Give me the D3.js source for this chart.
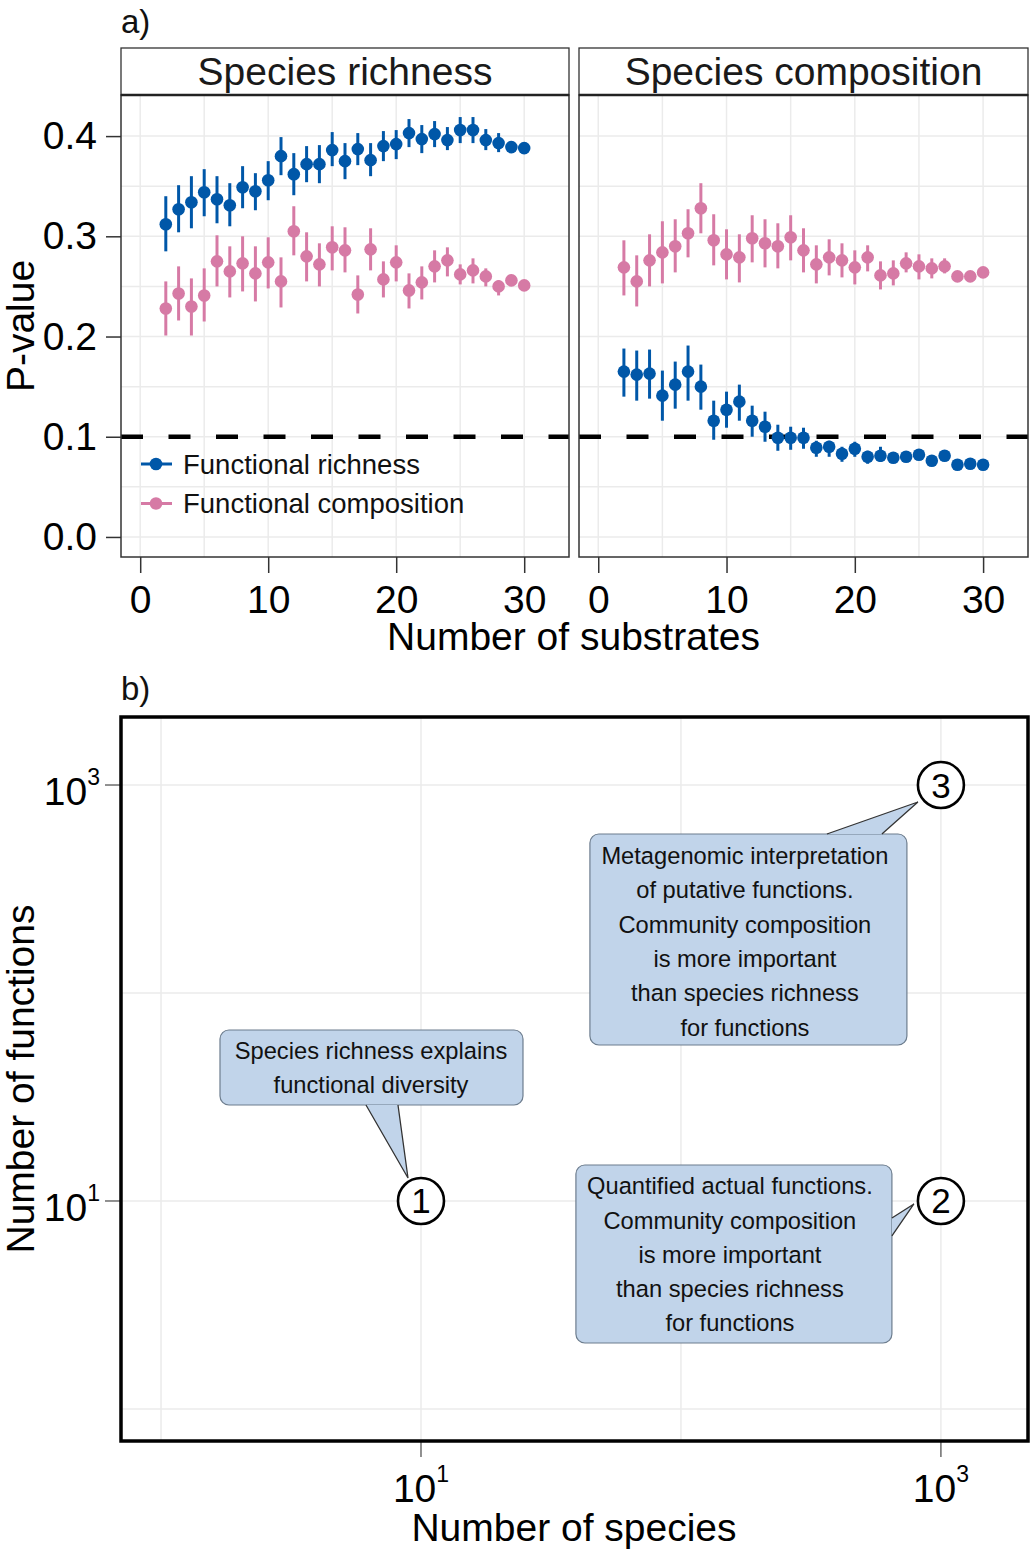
<!DOCTYPE html>
<html>
<head>
<meta charset="utf-8">
<script src="https://cdn.jsdelivr.net/npm/d3@7"></script>
<style>
  html, body { margin: 0; padding: 0; background: #fff; }
  svg { display: block; font-family: "Liberation Sans", Arial, Helvetica, sans-serif; }
</style>
</head>
<body>
<svg id="chart" width="1033" height="1552"></svg>
<script>
// ---------------- DATA ----------------
const substrates = [2,3,4,5,6,7,8,9,10,11,12,13,14,15,16,17,18,19,20,21,22,23,24,25,26,27,28,29,30];
const panelNames = ["Species richness", "Species composition"];
const seriesNames = ["Functional richness", "Functional composition"];
const pTicks = [0.0, 0.1, 0.2, 0.3, 0.4];
const substrateTicks = [0, 10, 20, 30];
const threshold = 0.1;

// Panel "Species richness"
const srRichness   = [.312,.327,.334,.344,.337,.331,.349,.345,.356,.380,.362,.372,.372,.386,.375,.387,.376,.390,.392,.403,.397,.402,.396,.406,.406,.396,.393,.389,.388];
const srRichnessHi = [.340,.351,.360,.367,.360,.353,.370,.363,.375,.399,.383,.390,.391,.404,.393,.403,.393,.405,.406,.417,.411,.415,.409,.419,.419,.407,.403,.393,.390];
const srRichnessLo = [.285,.304,.308,.320,.313,.310,.328,.326,.336,.361,.341,.354,.353,.370,.357,.371,.360,.375,.377,.389,.383,.389,.386,.393,.393,.386,.384,.385,.386];
const srComposition   = [.228,.243,.230,.241,.275,.265,.273,.263,.274,.255,.305,.280,.272,.289,.286,.242,.287,.257,.274,.246,.254,.270,.276,.262,.266,.260,.250,.256,.251];
const srCompositionHi = [.255,.270,.258,.268,.301,.290,.300,.290,.299,.279,.330,.304,.293,.310,.309,.261,.308,.275,.291,.263,.270,.286,.289,.272,.278,.268,.256,.260,.253];
const srCompositionLo = [.201,.216,.201,.215,.250,.239,.245,.235,.248,.229,.281,.255,.250,.266,.264,.223,.266,.239,.255,.228,.237,.254,.260,.252,.253,.250,.241,.252,.249];

// Panel "Species composition"
const scRichness   = [.165,.162,.163,.141,.152,.165,.150,.116,.127,.135,.116,.110,.099,.099,.099,.089,.090,.083,.088,.080,.081,.079,.080,.082,.076,.081,.072,.073,.072];
const scRichnessHi = [.188,.186,.187,.166,.175,.191,.172,.136,.145,.152,.131,.125,.112,.110,.109,.096,.096,.090,.095,.086,.090,.084,.085,.087,.079,.085,.075,.076,.075];
const scRichnessLo = [.140,.136,.138,.116,.128,.136,.127,.097,.109,.116,.100,.095,.086,.087,.088,.080,.080,.075,.080,.073,.075,.074,.076,.078,.073,.078,.069,.070,.069];
const scComposition   = [.269,.255,.276,.284,.290,.303,.328,.296,.282,.279,.298,.293,.290,.299,.286,.272,.279,.276,.269,.279,.261,.263,.273,.270,.268,.270,.260,.260,.264];
const scCompositionHi = [.296,.281,.302,.315,.317,.327,.353,.322,.307,.302,.321,.317,.313,.321,.308,.291,.297,.293,.286,.291,.275,.276,.284,.282,.278,.278,.263,.263,.267];
const scCompositionLo = [.241,.230,.250,.253,.264,.279,.303,.271,.257,.254,.274,.269,.268,.276,.264,.253,.261,.259,.252,.265,.247,.251,.264,.257,.258,.263,.257,.257,.261];

// Panel b
const speciesTicks = [10, 1000];
const functionTicks = [10, 1000];
const gridDecades = [1, 10, 100, 1000];
const calloutIds = ["1", "2", "3"];
const calloutSpecies = [10, 1000, 1000];
const calloutFunctions = [10, 10, 1000];
const calloutText = [
  ["Species richness explains", "functional diversity"],
  ["Quantified actual functions.", "Community composition", "is more important", "than species richness", "for functions"],
  ["Metagenomic interpretation", "of putative functions.", "Community composition", "is more important", "than species richness", "for functions"]
];

// ---------------- STYLE ----------------
const colRich = "#0057a8";
const colComp = "#d67aa5";
const gridCol = "#ebebeb";
const FONT = 39;
const CALLFONT = 23.7;

const svg = d3.select("#chart");

// ---------------- PANEL A ----------------
const panelX = [[121, 569], [579, 1028]];
const pTop = 95, pBottom = 557, stripTop = 48;
const y = d3.scaleLinear().domain([-0.02, 0.441]).range([pBottom, pTop]);

const panelData = [
  [
    {name: seriesNames[1], col: colComp, m: srComposition, lo: srCompositionLo, hi: srCompositionHi},
    {name: seriesNames[0], col: colRich, m: srRichness, lo: srRichnessLo, hi: srRichnessHi}
  ],
  [
    {name: seriesNames[1], col: colComp, m: scComposition, lo: scCompositionLo, hi: scCompositionHi},
    {name: seriesNames[0], col: colRich, m: scRichness, lo: scRichnessLo, hi: scRichnessHi}
  ]
];

panelX.forEach((px, pi) => {
  const x = d3.scaleLinear().domain([-1.5, 33.5]).range(px);
  const g = svg.append("g");

  // grid
  const minorX = [5, 15, 25], minorY = [0.05, 0.15, 0.25, 0.35];
  g.selectAll(".gx").data(substrateTicks.concat(minorX)).join("line")
    .attr("x1", d => x(d)).attr("x2", d => x(d)).attr("y1", pTop).attr("y2", pBottom)
    .attr("stroke", gridCol).attr("stroke-width", 1.5);
  g.selectAll(".gy").data(pTicks.concat(minorY)).join("line")
    .attr("x1", px[0]).attr("x2", px[1]).attr("y1", d => y(d)).attr("y2", d => y(d))
    .attr("stroke", gridCol).attr("stroke-width", 1.5);

  // threshold
  g.append("line").attr("x1", px[0]).attr("x2", px[1])
    .attr("y1", y(threshold)).attr("y2", y(threshold))
    .attr("stroke", "#000").attr("stroke-width", 4.5).attr("stroke-dasharray", "22,25.5");

  // series
  panelData[pi].forEach(s => {
    g.selectAll(null).data(substrates).join("line")
      .attr("x1", (d) => x(d)).attr("x2", (d) => x(d))
      .attr("y1", (d, i) => y(s.lo[i])).attr("y2", (d, i) => y(s.hi[i]))
      .attr("stroke", s.col).attr("stroke-width", 3);
    g.selectAll(null).data(substrates).join("circle")
      .attr("cx", d => x(d)).attr("cy", (d, i) => y(s.m[i])).attr("r", 6.3)
      .attr("fill", s.col);
  });

  // panel border
  g.append("rect").attr("x", px[0]).attr("y", pTop).attr("width", px[1] - px[0]).attr("height", pBottom - pTop)
    .attr("fill", "none").attr("stroke", "#333").attr("stroke-width", 1.5);

  // strip
  g.append("rect").attr("x", px[0]).attr("y", stripTop).attr("width", px[1] - px[0]).attr("height", pTop - stripTop)
    .attr("fill", "#fff").attr("stroke", "#333").attr("stroke-width", 1.3);
  g.append("line").attr("x1", px[0]).attr("x2", px[1]).attr("y1", pTop).attr("y2", pTop)
    .attr("stroke", "#222").attr("stroke-width", 2.5);
  g.append("text").attr("x", (px[0] + px[1]) / 2).attr("y", 85)
    .attr("text-anchor", "middle").attr("font-size", FONT).attr("fill", "#1a1a1a").text(panelNames[pi]);

  // x axis
  const ax = svg.append("g").attr("transform", `translate(0,${pBottom})`)
    .call(d3.axisBottom(x).tickValues(substrateTicks).tickSize(16).tickPadding(12).tickFormat(d3.format("d")));
  ax.select(".domain").remove();
  ax.selectAll("line").attr("stroke", "#333").attr("stroke-width", 1.5);
  ax.selectAll("text").attr("font-size", FONT).attr("fill", "#000").attr("font-family", "Liberation Sans, Arial, sans-serif");

  if (pi === 0) {
    const ay = svg.append("g").attr("transform", `translate(${px[0]},0)`)
      .call(d3.axisLeft(y).tickValues(pTicks).tickSize(15).tickPadding(9).tickFormat(d3.format(".1f")));
    ay.select(".domain").remove();
    ay.selectAll("line").attr("stroke", "#333").attr("stroke-width", 1.5);
    ay.selectAll("text").attr("font-size", FONT).attr("fill", "#000").attr("font-family", "Liberation Sans, Arial, sans-serif");

    // legend
    const leg = svg.append("g");
    [0, 1].forEach(k => {
      const ly = [464, 503.5][k];
      const col = k === 0 ? colRich : colComp;
      leg.append("line").attr("x1", 141).attr("x2", 172).attr("y1", ly).attr("y2", ly)
        .attr("stroke", col).attr("stroke-width", 3);
      leg.append("circle").attr("cx", 156).attr("cy", ly).attr("r", 6.3).attr("fill", col);
      leg.append("text").attr("x", 183).attr("y", ly + 9.5).attr("font-size", 27.5).attr("fill", "#111")
        .text(seriesNames[k]);
    });
  }
});

svg.append("text").attr("x", 121).attr("y", 33).attr("font-size", 33).attr("fill", "#111").text("a)");
svg.append("text").attr("x", 573.5).attr("y", 650).attr("text-anchor", "middle").attr("font-size", FONT).attr("fill", "#000")
  .text("Number of substrates");
svg.append("text").attr("transform", `translate(34,${(pTop + pBottom) / 2}) rotate(-90)`)
  .attr("text-anchor", "middle").attr("font-size", FONT).attr("fill", "#000").text("P-value");

// ---------------- PANEL B ----------------
const bx0 = 121, bx1 = 1028, by0 = 717, by1 = 1441;
const xs = d3.scaleLog().domain([Math.pow(10, -0.154), Math.pow(10, 3.335)]).range([bx0, bx1]);
const ys = d3.scaleLog().domain([Math.pow(10, -0.154), Math.pow(10, 3.327)]).range([by1, by0]);
const gb = svg.append("g");

svg.append("text").attr("x", 121).attr("y", 700).attr("font-size", 33).attr("fill", "#111").text("b)");

gb.selectAll(".bgx").data(gridDecades).join("line")
  .attr("x1", d => xs(d)).attr("x2", d => xs(d)).attr("y1", by0).attr("y2", by1)
  .attr("stroke", gridCol).attr("stroke-width", 1.5);
gb.selectAll(".bgy").data(gridDecades).join("line")
  .attr("x1", bx0).attr("x2", bx1).attr("y1", d => ys(d)).attr("y2", d => ys(d))
  .attr("stroke", gridCol).attr("stroke-width", 1.5);

// ticks
gb.selectAll(".btx").data(speciesTicks).join("line")
  .attr("x1", d => xs(d)).attr("x2", d => xs(d)).attr("y1", by1).attr("y2", by1 + 16)
  .attr("stroke", "#555").attr("stroke-width", 1.3);
gb.selectAll(".bty").data(functionTicks).join("line")
  .attr("x1", bx0 - 16).attr("x2", bx0).attr("y1", d => ys(d)).attr("y2", d => ys(d))
  .attr("stroke", "#555").attr("stroke-width", 1.3);

function expLabel(sel, d) {
  const e = Math.round(Math.log10(d));
  sel.append("tspan").text("10");
  sel.append("tspan").attr("dy", -20).attr("font-size", 23).text(String(e));
}
speciesTicks.forEach(d => {
  const t = gb.append("text").attr("x", xs(d)).attr("y", by1 + 61).attr("text-anchor", "middle")
    .attr("font-size", FONT).attr("fill", "#000");
  expLabel(t, d);
});
functionTicks.forEach(d => {
  const t = gb.append("text").attr("x", 100).attr("y", ys(d) + 20).attr("text-anchor", "end")
    .attr("font-size", FONT).attr("fill", "#000");
  expLabel(t, d);
});

// callouts
const boxGeom = [
  {box: [-201, -171, 303, 75], tx: -50, ty0: -149.5, lh: 33.5, ptr: [[-55, -96], [-13, -23], [-23, -96]]},
  {box: [-365, -36, 316, 178], tx: -211, ty0: -14.5, lh: 34.2, ptr: [[-49, 17], [-27, 3], [-49, 35]]},
  {box: [-351, 49, 317, 211], tx: -196, ty0: 70.7, lh: 34.4, ptr: [[-114, 49], [-23, 17], [-59, 49]]}
];
calloutIds.forEach((id, i) => {
  const ax = xs(calloutSpecies[i]), ay = ys(calloutFunctions[i]);
  const bg = boxGeom[i];
  const cg = gb.append("g");
  cg.append("rect").attr("x", ax + bg.box[0]).attr("y", ay + bg.box[1])
    .attr("width", bg.box[2]).attr("height", bg.box[3]).attr("rx", 9)
    .attr("fill", "#c1d4ea").attr("stroke", "#6d7d8e").attr("stroke-width", 1.2);
  const pts = bg.ptr.map(p => [ax + p[0], ay + p[1]]);
  cg.append("path").attr("d", d3.line()(pts) + "Z").attr("fill", "#c1d4ea").attr("stroke", "none");
  cg.append("path").attr("d", d3.line()(pts)).attr("fill", "none").attr("stroke", "#333").attr("stroke-width", 1.3);
  calloutText[i].forEach((line, k) => {
    cg.append("text").attr("x", ax + bg.tx).attr("y", ay + bg.ty0 + k * bg.lh + 8)
      .attr("text-anchor", "middle").attr("font-size", CALLFONT).attr("fill", "#111").text(line);
  });
  cg.append("circle").attr("cx", ax).attr("cy", ay).attr("r", 23)
    .attr("fill", "#fff").attr("stroke", "#000").attr("stroke-width", 2.6);
  cg.append("text").attr("x", ax).attr("y", ay + 12.5).attr("text-anchor", "middle")
    .attr("font-size", 35).attr("fill", "#000").text(id);
});

gb.append("rect").attr("x", bx0).attr("y", by0).attr("width", bx1 - bx0).attr("height", by1 - by0)
  .attr("fill", "none").attr("stroke", "#000").attr("stroke-width", 3.5);

svg.append("text").attr("x", 574).attr("y", 1541).attr("text-anchor", "middle").attr("font-size", FONT).attr("fill", "#000")
  .text("Number of species");
svg.append("text").attr("transform", `translate(34,${(by0 + by1) / 2}) rotate(-90)`)
  .attr("text-anchor", "middle").attr("font-size", FONT).attr("fill", "#000").text("Number of functions");
</script>
</body>
</html>
